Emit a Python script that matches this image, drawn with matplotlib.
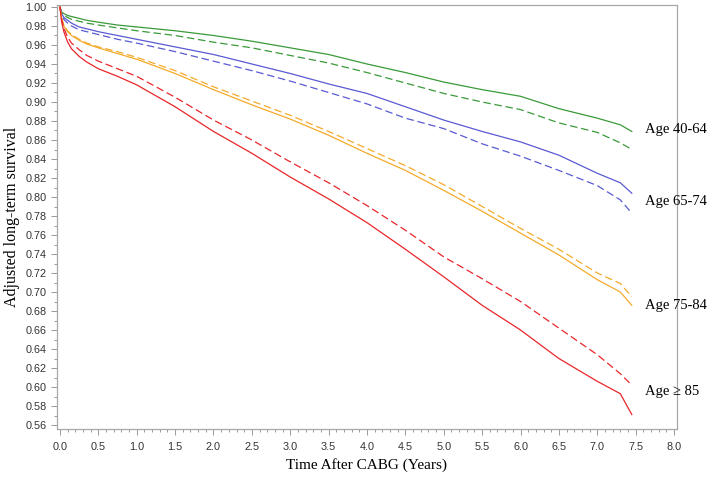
import matplotlib
matplotlib.use("Agg")
import matplotlib.pyplot as plt
from matplotlib.ticker import MultipleLocator, FormatStrFormatter

# years after CABG
years = [0.0, 0.02, 0.05, 0.1, 0.15, 0.25, 0.35, 0.5, 0.75, 1.0, 1.5, 2.0, 2.5, 3.0,
         3.5, 4.0, 4.5, 5.0, 5.5, 6.0, 6.5, 7.0, 7.3, 7.45]

# solid / dashed curves per age group
age_40_64_solid = [1.0, 0.995, 0.993, 0.991, 0.990, 0.988, 0.986, 0.984, 0.981, 0.979,
                   0.975, 0.970, 0.964, 0.957, 0.950, 0.940, 0.931, 0.921, 0.913, 0.906,
                   0.893, 0.883, 0.876, 0.869]
age_40_64_dash = [1.0, 0.994, 0.991, 0.989, 0.987, 0.985, 0.983, 0.981, 0.978, 0.975,
                  0.970, 0.963, 0.957, 0.949, 0.941, 0.931, 0.920, 0.909, 0.900, 0.892,
                  0.878, 0.868, 0.857, 0.850]
age_65_74_solid = [1.0, 0.993, 0.989, 0.986, 0.983, 0.979, 0.977, 0.974, 0.970, 0.966,
                   0.958, 0.950, 0.940, 0.930, 0.919, 0.909, 0.895, 0.881, 0.869, 0.858,
                   0.844, 0.825, 0.815, 0.804]
age_65_74_dash = [1.0, 0.992, 0.987, 0.983, 0.980, 0.976, 0.974, 0.971, 0.966, 0.962,
                  0.953, 0.943, 0.933, 0.922, 0.910, 0.898, 0.883, 0.872, 0.856, 0.843,
                  0.828, 0.812, 0.797, 0.783]
age_75_84_solid = [1.0, 0.988, 0.980, 0.974, 0.970, 0.965, 0.961, 0.957, 0.951, 0.945,
                   0.930, 0.913, 0.897, 0.882, 0.865, 0.846, 0.828, 0.807, 0.785, 0.762,
                   0.739, 0.713, 0.700, 0.686]
age_75_84_dash = [1.0, 0.989, 0.981, 0.975, 0.971, 0.966, 0.962, 0.958, 0.953, 0.947,
                  0.933, 0.916, 0.901, 0.886, 0.869, 0.851, 0.833, 0.813, 0.790, 0.767,
                  0.745, 0.720, 0.709, 0.695]
age_85_solid = [1.0, 0.985, 0.974, 0.963, 0.956, 0.948, 0.942, 0.935, 0.927, 0.918,
                0.895, 0.869, 0.846, 0.821, 0.798, 0.773, 0.745, 0.716, 0.686, 0.660,
                0.630, 0.606, 0.593, 0.571]
age_85_dash = [1.0, 0.987, 0.978, 0.968, 0.962, 0.955, 0.949, 0.943, 0.935, 0.927,
               0.905, 0.881, 0.860, 0.837, 0.815, 0.791, 0.765, 0.737, 0.714, 0.690,
               0.662, 0.634, 0.614, 0.602]

labels = ["Age 40-64", "Age 65-74", "Age 75-84", "Age \u2265 85"]
label_y = [0.871, 0.795, 0.686, 0.595]

colors = ["#3a9a3a", "#5a5ad2", "#f4ab2c", "#e8262a"]
solids = [age_40_64_solid, age_65_74_solid, age_75_84_solid, age_85_solid]
dashes = [age_40_64_dash, age_65_74_dash, age_75_84_dash, age_85_dash]

fig = plt.figure(figsize=(7.09, 4.80), dpi=100)
ax = fig.add_axes([57 / 709, 1 - 429 / 480, 620 / 709, 424 / 480])

for c, s, d in zip(colors, solids, dashes):
    ax.plot(years, s, color=c, lw=0.9)
    ax.plot(years, d, color=c, lw=0.9, dashes=(6, 3))

serif = ["Liberation Serif", "DejaVu Serif"]
for lab, yv in zip(labels, label_y):
    ax.text(7.62, yv, lab, fontsize=10.5, family=serif, va="center", ha="left",
            clip_on=False)

ax.set_xlim(-0.039, 8.039)
ax.set_ylim(0.5558, 1.0021)
ax.xaxis.set_major_locator(MultipleLocator(0.5))
ax.xaxis.set_minor_locator(MultipleLocator(0.1))
ax.yaxis.set_major_locator(MultipleLocator(0.02))
ax.yaxis.set_minor_locator(MultipleLocator(0.01))
ax.xaxis.set_major_formatter(FormatStrFormatter("%.1f"))
ax.yaxis.set_major_formatter(FormatStrFormatter("%.2f"))

for sp in ax.spines.values():
    sp.set_color("#a8a8a8")
    sp.set_linewidth(0.9)
ax.tick_params(which="both", color="#888888", labelcolor="#333333",
               labelsize=7.8, width=0.6)
ax.tick_params(which="major", length=4)
ax.tick_params(which="minor", length=2.5)
ax.tick_params(axis="x", which="major", pad=5)
for t in ax.get_xticklabels() + ax.get_yticklabels():
    t.set_family("Liberation Sans")

ax.set_xlabel("Time After CABG (Years)", fontsize=11, family=serif, labelpad=5)
ax.set_ylabel("Adjusted long-term survival", fontsize=11.5, family=serif, labelpad=4)

fig.savefig("out.png", dpi=100)
